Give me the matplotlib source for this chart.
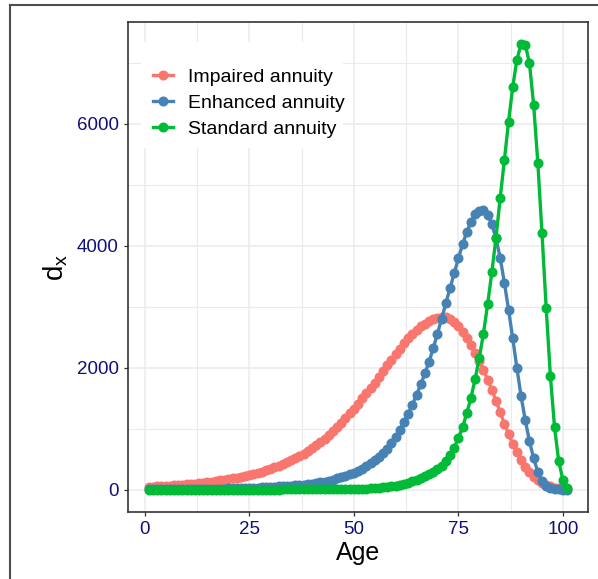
import matplotlib
matplotlib.use("Agg")
import matplotlib.pyplot as plt
from matplotlib.lines import Line2D
from matplotlib.patches import Rectangle
from matplotlib.ticker import MultipleLocator

plt.rcParams['font.family'] = ['Liberation Sans', 'DejaVu Sans']
plt.rcParams['mathtext.fontset'] = 'custom'
plt.rcParams['mathtext.rm'] = 'Liberation Sans'
plt.rcParams['mathtext.it'] = 'Liberation Sans'

ages = list(range(1, 102))

impaired = [
    45, 49, 53, 57, 61, 66, 71, 76, 82, 88,
    94, 101, 108, 116, 124, 133, 142, 152, 163, 174,
    186, 199, 213, 228, 244, 261, 279, 298, 319, 341,
    365, 391, 419, 449, 481, 515, 551, 590, 632, 677,
    725, 777, 833, 893, 957, 1025, 1097, 1172, 1250, 1330,
    1412, 1496, 1582, 1669, 1757, 1846, 1940, 2036, 2131, 2224,
    2314, 2400, 2480, 2553, 2618, 2675, 2724, 2765, 2798, 2822,
    2836, 2835, 2805, 2750, 2675, 2585, 2482, 2368, 2243, 2108,
    1962, 1806, 1640, 1460, 1270, 1085, 912, 755, 614, 488,
    378, 287, 213, 155, 110, 77, 53, 36, 24, 16, 10,
]

enhanced = [
    4, 4, 5, 5, 6, 6, 7, 7, 8, 9,
    10, 10, 11, 12, 13, 15, 16, 17, 19, 21,
    22, 24, 26, 28, 31, 33, 36, 39, 42, 46,
    50, 54, 58, 63, 68, 73, 79, 85, 91, 98,
    108, 120, 133, 148, 165, 184, 205, 227, 250, 275,
    308, 345, 386, 432, 483, 540, 603, 672, 760, 870,
    985, 1110, 1245, 1395, 1555, 1725, 1905, 2100, 2320, 2558,
    2805, 3055, 3300, 3545, 3790, 4020, 4222, 4392, 4515, 4575,
    4582, 4510, 4350, 4120, 3800, 3395, 2950, 2480, 1995, 1530,
    1140, 795, 515, 290, 145, 65, 28, 11, 4, 1, 0,
]

standard = [
    1, 1, 1, 1, 1, 1, 1, 1, 1, 1,
    1, 1, 1, 1, 1, 2, 2, 2, 2, 2,
    2, 2, 2, 2, 2, 3, 3, 3, 3, 3,
    3, 3, 4, 4, 4, 4, 5, 5, 5, 6,
    6, 7, 7, 8, 8, 9, 10, 10, 11, 12,
    14, 16, 19, 22, 26, 31, 37, 44, 55, 68,
    82, 98, 117, 139, 163, 190, 220, 254, 292, 336,
    392, 470, 570, 690, 840, 1025, 1250, 1505, 1810, 2160,
    2560, 3040, 3560, 4130, 4780, 5400, 6030, 6600, 7050, 7300,
    7295, 6990, 6310, 5360, 4200, 2980, 1870, 1025, 463, 164, 22,
]

series = [
    ("Impaired annuity", impaired, "#F8766D"),
    ("Enhanced annuity", enhanced, "#4682B4"),
    ("Standard annuity", standard, "#00BA38"),
]

W, H = 598, 579
fig = plt.figure(figsize=(W / 100, H / 100), dpi=100)

# outer frame (top and left edges only, the rest runs off the canvas)
frame_kw = dict(transform=fig.transFigure, color="#4d4d4d", lw=1.5)
fig.add_artist(Line2D([10 / W, 1.0], [1 - 5 / H, 1 - 5 / H], **frame_kw))
fig.add_artist(Line2D([10 / W, 10 / W], [0.0, 1 - 5 / H], **frame_kw))

left, right, top, bottom = 128, 588, 22, 512
ax = fig.add_axes([left / W, 1 - bottom / H, (right - left) / W, (bottom - top) / H])

for label, vals, col in series:
    ax.plot(ages, vals, color=col, lw=2.4, marker="o", ms=6.2, mec=col, mfc=col, label=label, zorder=3)

ymax = max(max(impaired), max(enhanced), max(standard))
ypad = 0.05 * ymax
ax.set_xlim(ages[0] - 5, ages[-1] + 5)
ax.set_ylim(-ypad, ymax + ypad)

ax.xaxis.set_major_locator(MultipleLocator(25))
ax.xaxis.set_minor_locator(MultipleLocator(12.5))
ax.yaxis.set_major_locator(MultipleLocator(2000))
ax.yaxis.set_minor_locator(MultipleLocator(1000))

ax.set_axisbelow(True)
ax.grid(which="major", color="#EBEBEB", lw=1.1)
ax.grid(which="minor", color="#EBEBEB", lw=0.8)
ax.tick_params(which="major", direction="out", length=3, width=0.9, color="#333333",
               labelsize=13.5, labelcolor="#10107a", pad=3.5)
ax.tick_params(which="minor", length=0)
for sp in ax.spines.values():
    sp.set_color("#333333")
    sp.set_linewidth(1.2)

ax.set_xlabel("Age", fontsize=18, labelpad=2)
ax.set_ylabel(r"$\mathrm{d}_{\mathrm{x}}$", fontsize=20, labelpad=5)

# white legend background
ax.add_patch(Rectangle((141 / W, 1 - 148 / H), (343 - 141) / W, (148 - 42) / H,
                       transform=fig.transFigure, facecolor="white", edgecolor="none", zorder=1))
ax.legend(loc="upper left", bbox_to_anchor=(153 / W, 1 - 68 / H), bbox_transform=fig.transFigure,
          frameon=False, fontsize=14, borderpad=0, borderaxespad=0, handlelength=1.03,
          handletextpad=0.77, labelspacing=0.44, markerscale=1.0)

fig.savefig("out.png", dpi=100)
